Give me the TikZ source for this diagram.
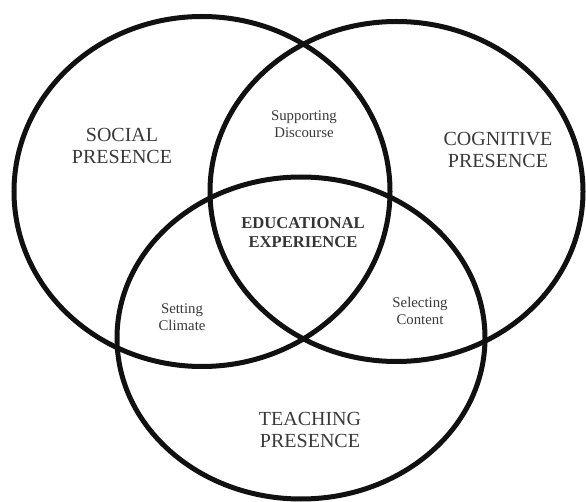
\documentclass[tikz,border=0pt]{standalone}
\usepackage{fontspec}
\setmainfont{Liberation Serif}
\usepackage{xcolor}
\usepackage{tikz}
\definecolor{ink}{HTML}{111111}
\definecolor{labelgray}{HTML}{3A3A3A}
\tikzset{
  ring/.style={draw=ink,line width=5pt},
  presence/.style={align=center,text=labelgray,inner sep=0pt,font=\fontsize{20}{22.3}\selectfont},
  overlap/.style={align=center,text=labelgray,inner sep=0pt,font=\fontsize{14.8}{16.7}\selectfont},
  core/.style={align=center,text=ink!85,inner sep=0pt,font=\fontsize{16.6}{19}\selectfont\bfseries}
}

\begin{document}
\begin{tikzpicture}[x=1pt,y=-1pt]
  \useasboundingbox (0,0) rectangle (586,502);
  \fill[white] (0,0) rectangle (586,502);

  % the three presences
  \coordinate (socialC) at (202,191.5);
  \coordinate (cognitiveC) at (396.5,191.5);
  \coordinate (teachingC) at (301,338);
  \draw[ring] (socialC) ellipse [x radius=188pt,y radius=175pt];
  \draw[ring] (cognitiveC) ellipse [x radius=186.5pt,y radius=170pt];
  \draw[ring] (teachingC) ellipse [x radius=184pt,y radius=161pt];

  \node[presence] (social) at (122,146) {SOCIAL\\PRESENCE};
  \node[presence] (cognitive) at (498,150) {COGNITIVE\\PRESENCE};
  \node[presence] (teaching) at (310,430) {TEACHING\\PRESENCE};

  % pairwise overlaps
  \node[overlap] (discourse) at (304,124) {Supporting\\Discourse};
  \node[overlap] (climate) at (182,317) {Setting\\Climate};
  \node[overlap] (content) at (420,311) {Selecting\\Content};

  \node[core] (experience) at (303,233) {EDUCATIONAL\\EXPERIENCE};
\end{tikzpicture}
\end{document}
